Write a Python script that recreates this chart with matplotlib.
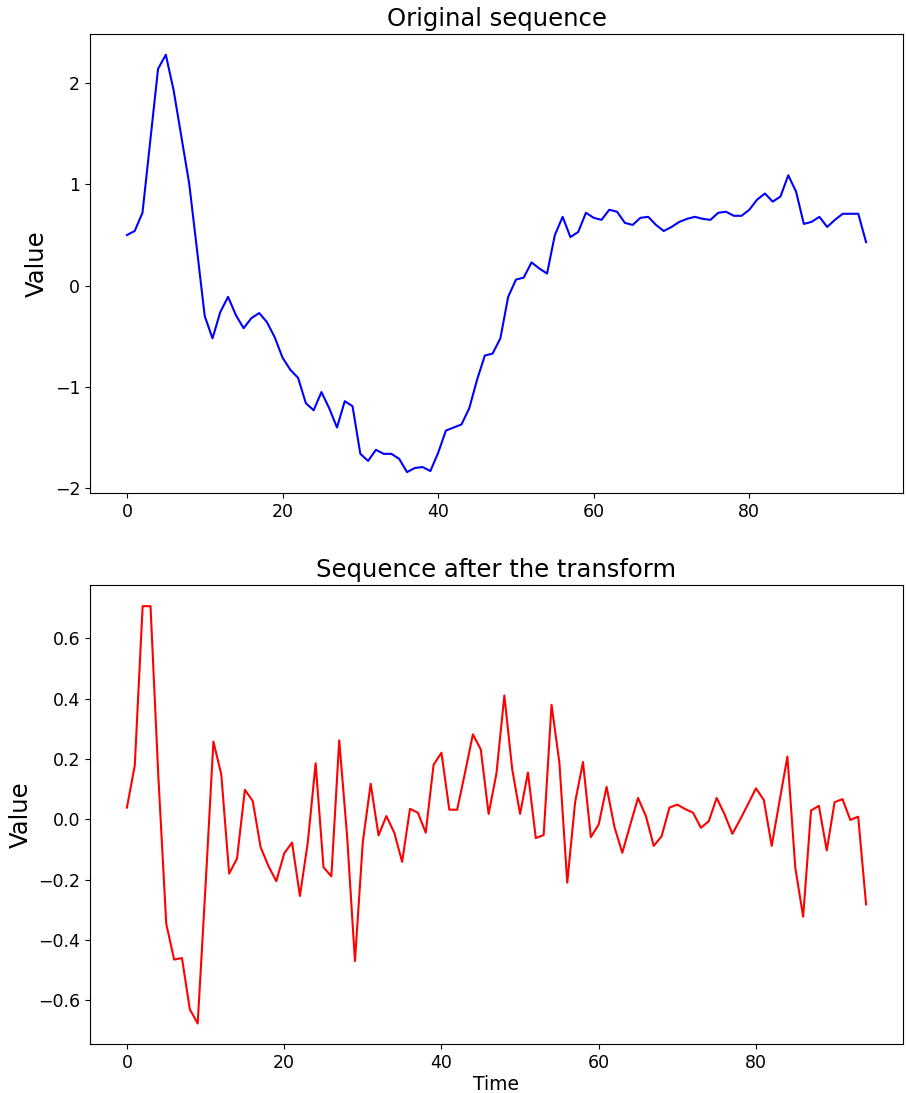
import numpy as np
import matplotlib
matplotlib.use("Agg")
from matplotlib import pyplot as plt

# original sequence
original = [0.50, 0.54, 0.72, 1.43, 2.14, 2.28, 1.93, 1.47, 1.01, 0.36,
            -0.30, -0.52, -0.26, -0.11, -0.29, -0.42, -0.32, -0.27, -0.36, -0.51,
            -0.71, -0.83, -0.91, -1.16, -1.23, -1.05, -1.21, -1.40, -1.14, -1.19,
            -1.66, -1.73, -1.62, -1.66, -1.66, -1.71, -1.84, -1.80, -1.79, -1.83,
            -1.65, -1.43, -1.40, -1.37, -1.21, -0.93, -0.69, -0.67, -0.52, -0.11,
            0.06, 0.08, 0.23, 0.17, 0.12, 0.50, 0.68, 0.48, 0.53, 0.72,
            0.67, 0.65, 0.75, 0.73, 0.62, 0.60, 0.67, 0.68, 0.60, 0.54,
            0.58, 0.63, 0.66, 0.68, 0.66, 0.65, 0.72, 0.73, 0.69, 0.69,
            0.75, 0.85, 0.91, 0.83, 0.88, 1.09, 0.93, 0.61, 0.63, 0.68,
            0.58, 0.65, 0.71, 0.71, 0.71, 0.43]

# sequence after the transform
transformed = [0.039, 0.179, 0.707, 0.707, 0.14, -0.346, -0.465, -0.46, -0.63, -0.677,
               -0.22, 0.258, 0.149, -0.18, -0.13, 0.098, 0.061, -0.092, -0.155, -0.205,
               -0.113, -0.077, -0.254, -0.077, 0.186, -0.159, -0.189, 0.262, -0.055, -0.47,
               -0.075, 0.118, -0.053, 0.011, -0.044, -0.141, 0.035, 0.022, -0.044, 0.181,
               0.221, 0.032, 0.032, 0.155, 0.282, 0.232, 0.018, 0.153, 0.411, 0.166,
               0.018, 0.155, -0.062, -0.052, 0.38, 0.188, -0.21, 0.057, 0.19, -0.059,
               -0.017, 0.108, -0.025, -0.111, -0.019, 0.071, 0.011, -0.088, -0.056, 0.039,
               0.049, 0.034, 0.022, -0.028, -0.006, 0.071, 0.017, -0.048, 0.0, 0.051,
               0.103, 0.064, -0.088, 0.061, 0.208, -0.16, -0.323, 0.029, 0.045, -0.103,
               0.057, 0.067, -0.002, 0.009, -0.282]

fig = plt.figure(figsize=(9.06, 10.93), dpi=100)
ax1 = fig.add_axes([0.0993, 0.549, 0.8974, 0.42])
ax2 = fig.add_axes([0.0993, 0.0445, 0.8974, 0.42])

ax1.plot(np.arange(len(original)), original, color='blue', linewidth=1.5)
ax1.set_title('Original sequence', fontsize=17.5)
ax1.set_ylabel('Value', fontsize=17.5)
ax1.tick_params(labelsize=12.5)

ax2.plot(np.arange(len(transformed)), transformed, color='red', linewidth=1.5)
ax2.set_title('Sequence after the transform', fontsize=17.5)
ax2.set_ylabel('Value', fontsize=17.5)
ax2.set_xlabel('Time', fontsize=13.5, labelpad=2)
ax2.tick_params(labelsize=12.5)

fig.savefig('out.png', dpi=100)
